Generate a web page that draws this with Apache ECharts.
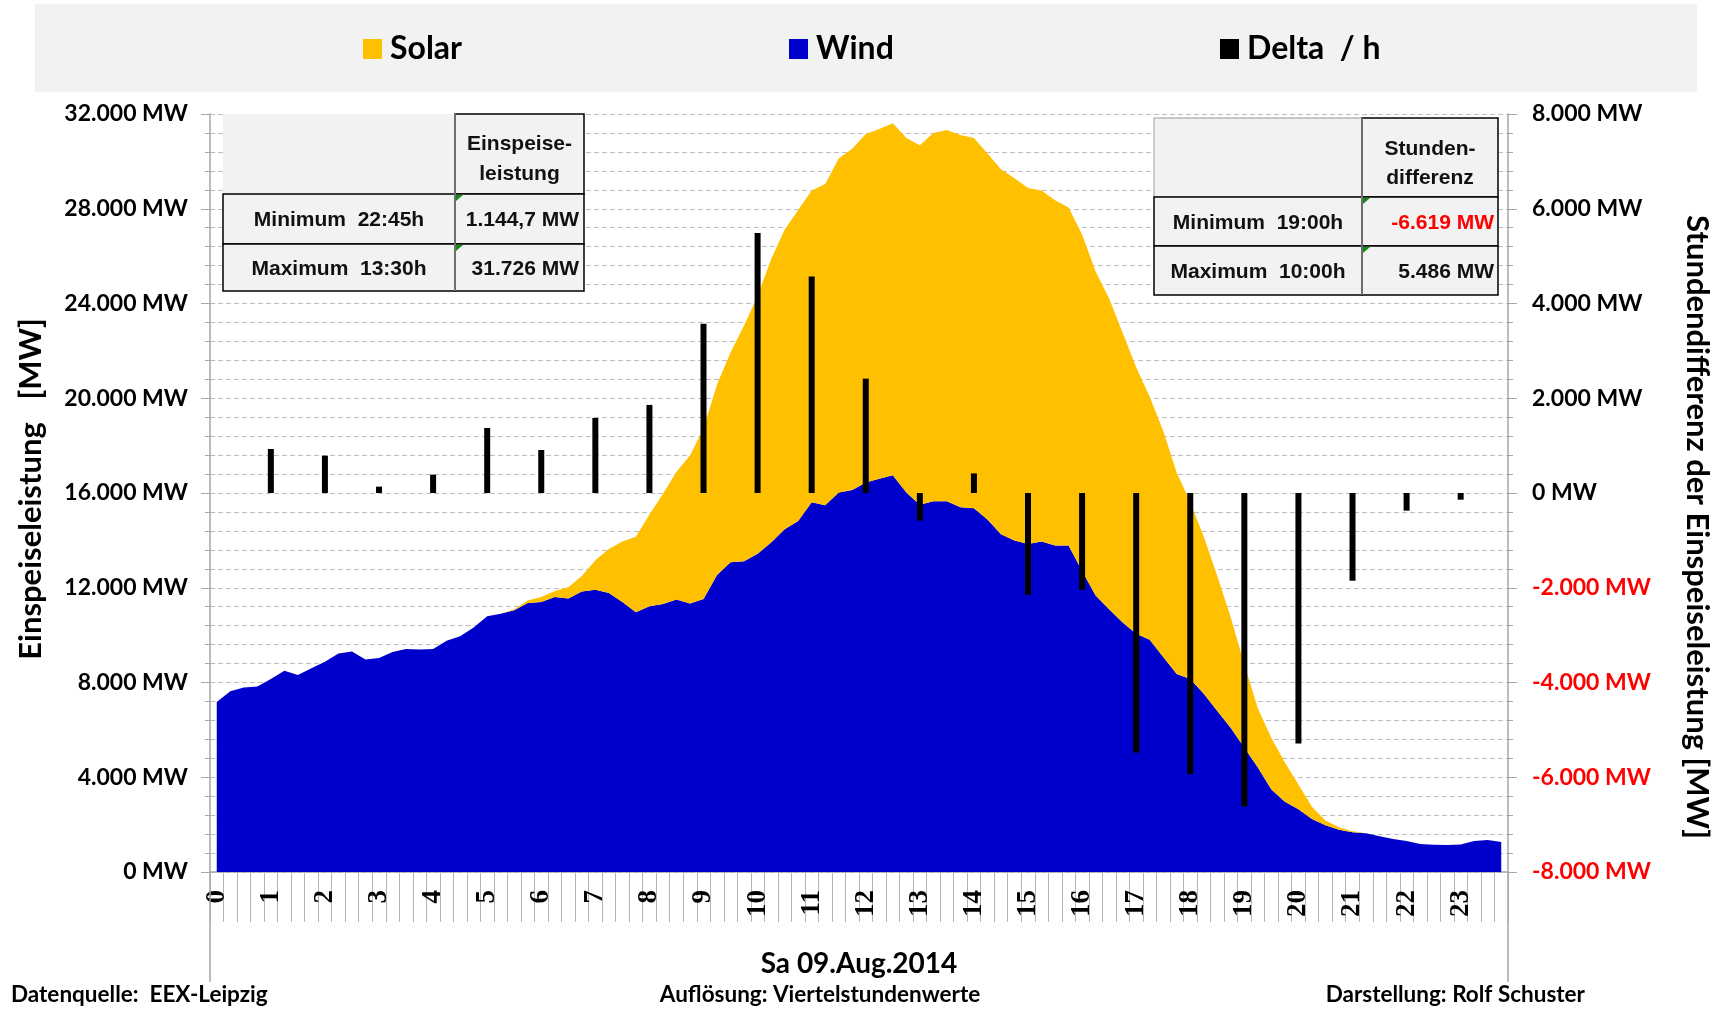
<!DOCTYPE html>
<html>
<head>
<meta charset="utf-8">
<title>Solar und Wind 09.08.2014</title>
<script src="https://cdn.jsdelivr.net/npm/echarts@6/dist/echarts.min.js"></script>
<style>
html, body { margin: 0; padding: 0; background: #fff; }
#chart { width: 1722px; height: 1010px; }
</style>
</head>
<body>
<div id="chart"></div>
<script>
// Stunden fuer die Achsenbeschriftung
const hourLabels = ['0','1','2','3','4','5','6','7','8','9','10','11','12','13','14','15','16','17','18','19','20','21','22','23'];
const quarterLabels = ['00','15','30','45'];

// Viertelstundenwerte Wind [MW]
const windMW = [
  7173, 7629, 7794, 7836, 8147, 8500, 8313, 8603, 8872, 9225, 9308, 8976,
  9038, 9287, 9411, 9391, 9411, 9764, 9950, 10323, 10800, 10904, 11049, 11360,
  11400, 11610, 11547, 11837, 11920, 11775, 11400, 10966, 11215, 11319, 11505, 11340,
  11526, 12542, 13081, 13122, 13433, 13910, 14470, 14822, 15610, 15485, 16024, 16128,
  16439, 16605, 16750, 16024, 15506, 15651, 15651, 15402, 15361, 14884, 14262, 13993,
  13848, 13951, 13786, 13786, 12707, 11671, 11090, 10530, 10054, 9805, 9080, 8354,
  8147, 7525, 6799, 6074, 5245, 4415, 3483, 2964, 2653, 2239, 1969, 1783,
  1679, 1638, 1513, 1389, 1306, 1182, 1150, 1145, 1160, 1306, 1347, 1265
];

// Viertelstundenwerte Solar [MW]
const solarMW = [
  0, 0, 0, 0, 0, 0, 0, 0, 0, 0, 0, 0,
  0, 0, 0, 0, 0, 0, 0, 0, 0, 0, 40, 100,
  210, 250, 476, 663, 1243, 1865, 2550, 3192, 3876, 4643, 5390, 6240,
  7193, 8043, 8851, 9950, 10883, 11961, 12645, 13122, 13163, 13558, 14097, 14407,
  14718, 14759, 14863, 14967, 15174, 15548, 15672, 15714, 15630, 15444, 15403, 15299,
  15029, 14822, 14573, 14262, 14201, 13682, 13122, 12231, 11256, 10261, 9535, 8499,
  7463, 6633, 5701, 4664, 3524, 2488, 2176, 1659, 1037, 518, 208, 103,
  41, 0, 0, 0, 0, 0, 0, 0, 0, 0, 0, 0
];

// Stundendifferenz der Einspeiseleistung [MW], je volle Stunde
const deltaMW = [
  null, 929, 788, 134, 387, 1373, 908, 1584, 1859, 3575, 5486, 4570,
  2414, -584, 414, -2150, -2045, -5477, -5935, -6619, -5287, -1852, -373, -141
];

const categories = hourLabels.flatMap(h => quarterLabels.map(q => h + ':' + q));
const deltaSeries = categories.map((c, i) => (i % 4 === 0 ? deltaMW[i / 4] : null));

function fmtMW(v) {
  const s = Math.abs(v).toString().replace(/\B(?=(\d{3})+(?!\d))/g, '.');
  return (v < 0 ? '-' : '') + s + ' MW';
}

const gridColor = '#bdbdbd';
const axisColor = '#a6a6a6';
const cellFont = 'bold 21px "Liberation Sans", Arial, sans-serif';
const lato = 'Lato, "Open Sans", sans-serif';

function txt(x, y, text, align, font, fill) {
  return {
    type: 'text', z: 20, silent: true,
    style: { x: x, y: y, text: text, align: align, verticalAlign: 'middle', font: font, fill: fill || '#111' }
  };
}
function box(x, y, w, h, stroke, lw) {
  return {
    type: 'rect', z: 15, silent: true,
    shape: { x: x, y: y, width: w, height: h },
    style: { fill: '#f2f2f2', stroke: stroke || null, lineWidth: lw || 0 }
  };
}
function mark(x, y) {
  return {
    type: 'polygon', z: 21, silent: true,
    shape: { points: [[x + 1, y + 1], [x + 8, y + 1], [x + 1, y + 7]] },
    style: { fill: '#108a10' }
  };
}
function vline(x, y1, y2, color, w) {
  return {
    type: 'line', z: 21, silent: true,
    shape: { x1: x, y1: y1, x2: x, y2: y2 },
    style: { stroke: color, lineWidth: w }
  };
}

const graphics = [
  // Legendenhintergrund
  { type: 'rect', z: 0, silent: true, shape: { x: 35, y: 4, width: 1662, height: 88 }, style: { fill: '#f2f2f2' } },
  // verlaengerte Achsenlinien
  vline(210, 872, 982, axisColor, 1.5),
  vline(1508, 872, 982, axisColor, 1.5),
  // Achsentitel
  {
    type: 'text', x: 31, y: 489, rotation: Math.PI / 2, silent: true,
    style: { x: 0, y: 0, text: 'Einspeiseleistung   [MW]', align: 'center', verticalAlign: 'middle', font: 'bold 31px ' + lato, fill: '#000' }
  },
  {
    type: 'text', x: 1697, y: 527, rotation: -Math.PI / 2, silent: true,
    style: { x: 0, y: 0, text: 'Stundendifferenz der Einspeiseleistung [MW]', align: 'center', verticalAlign: 'middle', font: 'bold 31px ' + lato, fill: '#000' }
  },
  txt(859, 964, 'Sa 09.Aug.2014', 'center', 'bold 28px ' + lato, '#000'),
  txt(11, 995, 'Datenquelle:  EEX-Leipzig', 'left', 'bold 22.5px ' + lato, '#000'),
  txt(820, 995, 'Auflösung: Viertelstundenwerte', 'center', 'bold 22.5px ' + lato, '#000'),
  txt(1585, 995, 'Darstellung: Rolf Schuster', 'right', 'bold 22.5px ' + lato, '#000'),

  // Tabelle Einspeiseleistung
  box(223, 114, 232, 80),
  box(455, 114, 129, 80, '#000', 1.5),
  box(223, 194, 232, 50, '#000', 1.5),
  box(455, 194, 129, 50, '#000', 1.5),
  box(223, 244, 232, 47, '#000', 1.5),
  box(455, 244, 129, 47, '#000', 1.5),
  vline(455, 114, 291, '#6e6e6e', 2),
  mark(455, 194), mark(455, 244),
  txt(519.5, 144, 'Einspeise-', 'center', cellFont),
  txt(519.5, 174, 'leistung', 'center', cellFont),
  txt(339, 220, 'Minimum  22:45h', 'center', cellFont),
  txt(579, 220, '1.144,7 MW', 'right', cellFont),
  txt(339, 269, 'Maximum  13:30h', 'center', cellFont),
  txt(579, 269, '31.726 MW', 'right', cellFont),

  // Tabelle Stundendifferenz
  box(1154, 118, 208, 79, '#9a9a9a', 1),
  box(1362, 118, 136, 79, '#000', 1.5),
  box(1154, 197, 208, 49, '#000', 1.5),
  box(1362, 197, 136, 49, '#000', 1.5),
  box(1154, 246, 208, 49, '#000', 1.5),
  box(1362, 246, 136, 49, '#000', 1.5),
  vline(1362, 118, 295, '#6e6e6e', 2),
  mark(1362, 197), mark(1362, 246),
  txt(1430, 149, 'Stunden-', 'center', cellFont),
  txt(1430, 178, 'differenz', 'center', cellFont),
  txt(1258, 223, 'Minimum  19:00h', 'center', cellFont),
  txt(1494, 223, '-6.619 MW', 'right', cellFont, '#ff0000'),
  txt(1258, 272, 'Maximum  10:00h', 'center', cellFont),
  txt(1494, 272, '5.486 MW', 'right', cellFont)
];

const legendText = { fontFamily: lato, fontWeight: 'bold', fontSize: 32, color: '#000', padding: [0, 0, 0, 3] };
function legendAt(name, left) {
  return {
    data: [name], left: left, top: 28, icon: 'rect', itemWidth: 19, itemHeight: 20,
    selectedMode: false, textStyle: legendText
  };
}

const chart = echarts.init(document.getElementById('chart'));
chart.setOption({
  animation: false,
  backgroundColor: '#fff',
  legend: [legendAt('Solar', 358), legendAt('Wind', 784), legendAt('Delta  / h', 1215)],
  grid: { left: 210, right: 214, top: 114, bottom: 138 },
  xAxis: {
    type: 'category',
    data: categories,
    boundaryGap: true,
    axisLine: { lineStyle: { color: axisColor, width: 1.5 } },
    axisTick: { show: true, interval: 0, length: 50, lineStyle: { color: '#b4b4b4', width: 1 } },
    axisLabel: {
      interval: 3, rotate: 90, margin: 18,
      fontFamily: '"Liberation Serif", serif', fontWeight: 'bold', fontSize: 27, color: '#000',
      formatter: v => v.split(':')[0]
    },
    splitLine: { show: false }
  },
  yAxis: [
    {
      type: 'value', position: 'left', min: 0, max: 32000, interval: 4000,
      axisLine: { show: true, lineStyle: { color: axisColor, width: 1.5 } },
      axisTick: { show: true, length: 9, lineStyle: { color: axisColor } },
      minorTick: { show: true, splitNumber: 5, length: 5, lineStyle: { color: axisColor } },
      splitLine: { show: true, lineStyle: { color: gridColor, type: [5, 3], width: 1 } },
      minorSplitLine: { show: true, lineStyle: { color: gridColor, type: [5, 3], width: 1 } },
      axisLabel: { margin: 22, fontFamily: lato, fontWeight: 'bold', fontSize: 23, color: '#000', formatter: fmtMW }
    },
    {
      type: 'value', position: 'right', min: -8000, max: 8000, interval: 2000,
      axisLine: { show: true, lineStyle: { color: axisColor, width: 1.5 } },
      axisTick: { show: true, length: 9, lineStyle: { color: axisColor } },
      minorTick: { show: true, splitNumber: 5, length: 5, lineStyle: { color: axisColor } },
      splitLine: { show: false },
      axisLabel: {
        margin: 24, fontFamily: lato, fontWeight: 'bold', fontSize: 23,
        color: v => (v < 0 ? '#ff0000' : '#000'),
        formatter: fmtMW
      }
    }
  ],
  series: [
    {
      name: 'Wind', type: 'line', stack: 'einspeisung', data: windMW,
      symbol: 'none', showSymbol: false,
      lineStyle: { width: 0 },
      itemStyle: { color: '#0000cc' },
      areaStyle: { color: '#0000cc', opacity: 1 },
      z: 2
    },
    {
      name: 'Solar', type: 'line', stack: 'einspeisung', data: solarMW,
      symbol: 'none', showSymbol: false,
      lineStyle: { width: 0 },
      itemStyle: { color: '#ffc000' },
      areaStyle: { color: '#ffc000', opacity: 1 },
      z: 2
    },
    {
      name: 'Delta  / h', type: 'bar', yAxisIndex: 1, data: deltaSeries,
      barWidth: 6, itemStyle: { color: '#000' }, z: 5
    }
  ],
  graphic: graphics
});
</script>
</body>
</html>
